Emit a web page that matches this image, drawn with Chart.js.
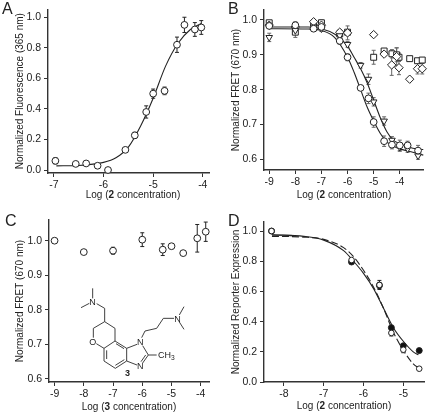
<!DOCTYPE html>
<html>
<head>
<meta charset="utf-8">
<title>Dose response panels</title>
<script src="https://cdn.jsdelivr.net/npm/chart.js@4/dist/chart.umd.min.js"></script>
<style>
html, body { margin: 0; padding: 0; background: #fff; overflow: hidden; }
#page { position: relative; width: 429px; height: 413px; font-family: "Liberation Sans", Arial, sans-serif; color: #222; }
#page canvas { position: absolute; }
.xtitle { position: absolute; font-size: 10px; white-space: nowrap; transform: translate(-50%, -50%); }
.letter { position: absolute; font-size: 16px; line-height: 16px; }
#molecule { position: absolute; left: 0; top: 205px; }
#molecule line { stroke: #222; stroke-width: 2.6; }
#molecule text { font-size: 27px; fill: #222; }
</style>
</head>
<body>
<div id="page">
    <canvas id="chartA" style="left:0;top:0"></canvas>
    <canvas id="chartB" style="left:215px;top:0"></canvas>
    <canvas id="chartC" style="left:0;top:205px"></canvas>
    <canvas id="chartD" style="left:215px;top:205px"></canvas>

    <div class="letter" style="left:2px;top:1px">A</div>
    <div class="letter" style="left:228px;top:1px">B</div>
    <div class="letter" style="left:5px;top:213px">C</div>
    <div class="letter" style="left:228px;top:213px">D</div>

    <div class="xtitle" style="left:133px;top:194px">Log (<b>2</b> concentration)</div>
    <div class="xtitle" style="left:344px;top:194px">Log (<b>2</b> concentration)</div>
    <div class="xtitle" style="left:129px;top:406px">Log (<b>3</b> concentration)</div>
    <div class="xtitle" style="left:344px;top:405px">Log (<b>2</b> concentration)</div>

    <svg id="molecule" width="215" height="208" viewBox="0 0 645 624">
        <line x1="278" y1="280" x2="278" y2="250"/><line x1="268" y1="295" x2="243" y2="308"/>
        <line x1="290" y1="296" x2="314" y2="310"/><line x1="314" y1="310" x2="314" y2="350"/>
        <line x1="314" y1="350" x2="280" y2="370"/><line x1="280" y1="370" x2="280" y2="398"/>
        <line x1="289" y1="416" x2="312" y2="430"/><line x1="312" y1="430" x2="345" y2="408"/>
        <line x1="345" y1="408" x2="345" y2="370"/><line x1="345" y1="370" x2="314" y2="350"/>
        <line x1="312" y1="430" x2="312" y2="468"/><line x1="320" y1="436" x2="320" y2="462"/>
        <line x1="312" y1="468" x2="346" y2="490"/><line x1="346" y1="490" x2="380" y2="468"/>
        <line x1="346" y1="481" x2="373" y2="464"/><line x1="380" y1="468" x2="380" y2="430"/>
        <line x1="380" y1="430" x2="345" y2="408"/><line x1="372" y1="431" x2="348" y2="416"/>
        <line x1="380" y1="430" x2="411" y2="418"/><line x1="380" y1="468" x2="411" y2="480"/>
        <line x1="428" y1="422" x2="445" y2="450"/><line x1="445" y1="450" x2="428" y2="474"/>
        <line x1="437" y1="450" x2="423" y2="470"/><line x1="445" y1="450" x2="470" y2="450"/>
        <line x1="425" y1="398" x2="435" y2="378"/><line x1="435" y1="378" x2="470" y2="370"/>
        <line x1="470" y1="370" x2="490" y2="340"/><line x1="490" y1="340" x2="522" y2="340"/>
        <line x1="538" y1="330" x2="552" y2="305"/><line x1="538" y1="351" x2="552" y2="373"/>
        <text x="268" y="300">N</text><text x="268" y="419">O</text>
        <text x="411" y="419">N</text><text x="411" y="492">N</text>
        <text x="523" y="350">N</text>
        <text x="474" y="459">CH<tspan font-size="20" dy="5">3</tspan></text>
        <text x="375" y="514" font-weight="bold">3</text>
    </svg>
</div>

<script>
// Panel A
const xTicksA = [-7, -6, -5, -4];
const yTicksA = [0, 0.2, 0.4, 0.6, 0.8, 1.0];
const logA = [-6.97, -6.56, -6.35, -6.12, -5.91, -5.56, -5.37, -5.14, -5.0, -4.77, -4.52, -4.37, -4.16, -4.03];
const valuesA = [0.06, 0.04, 0.043, 0.028, 0.0, 0.132, 0.227, 0.38, 0.5, 0.518, 0.82, 0.95, 0.92, 0.933];
const errorsA = [0.02, 0.005, 0.005, 0.005, 0, 0.008, 0.02, 0.04, 0.03, 0.025, 0.05, 0.05, 0.045, 0.045];
const curveLogA = [-6.95, -6.5, -6, -5.75, -5.5, -5.25, -5, -4.75, -4.5, -4.25, -4.03];
const curveA = [0.027, 0.03, 0.05, 0.08, 0.15, 0.29, 0.47, 0.68, 0.83, 0.92, 0.96];

// Panel B
const xTicksB = [-9, -8, -7, -6, -5, -4];
const yTicksB = [0.6, 0.7, 0.8, 0.9, 1.0];
const logB = [-9, -8, -7.3, -7, -6.3, -6, -5.5, -5.2, -5, -4.6, -4.3, -4, -3.7, -3.3];
const circlesB = [0.983, 0.985, 0.975, 0.98, 0.94, 0.893, 0.805, 0.775, 0.707, 0.652, 0.642, 0.64, 0.64, 0.625];
const circleErrB = [0.005, 0.01, 0.005, 0.005, 0.01, 0.01, 0.005, 0.015, 0.015, 0.015, 0.012, 0.015, 0.012, 0.015];
const trianglesB = [0.95, 0.97, 0.98, 0.975, 0.955, 0.93, 0.87, 0.83, 0.765, 0.71, 0.655, 0.635, 0.63, 0.61];
const triangleErrB = [0.012, 0.01, 0.005, 0.008, 0.01, 0.008, 0.008, 0.015, 0.012, 0.012, 0.01, 0.012, 0.01, 0.01];
const logSquaresB = [-9, -8, -7.3, -7, -6.3, -6, -5, -4.6, -4.3, -4.12, -4.03, -3.62, -3.32, -3.14];
const squaresB = [0.992, 0.965, 0.985, 0.992, 0.96, 0.965, 0.893, 0.911, 0.903, 0.9, 0.893, 0.889, 0.883, 0.885];
const squareErrB = [0.005, 0.015, 0.005, 0.008, 0.012, 0.005, 0.02, 0.006, 0.012, 0.02, 0.012, 0.004, 0.004, 0.004];
const logDiamondsB = [-9, -8, -7.3, -7, -6.3, -6, -5, -4.6, -4.31, -4.12, -4.03, -3.62, -3.32, -3.14];
const diamondsB = [0.985, 0.98, 0.995, 0.985, 0.965, 0.963, 0.958, 0.902, 0.871, 0.895, 0.863, 0.83, 0.86, 0.86];
const diamondErrB = [0.004, 0.006, 0.004, 0.01, 0.006, 0.02, 0.003, 0.006, 0.03, 0.025, 0.02, 0.003, 0.015, 0.015];
const curveLogB = [-9, -7.5, -7, -6.5, -6, -5.75, -5.5, -5.25, -5, -4.75, -4.5, -4.25, -4, -3.5, -3.1];
const curveLowB = [0.975, 0.974, 0.97, 0.95, 0.893, 0.85, 0.8, 0.75, 0.71, 0.675, 0.65, 0.638, 0.63, 0.62, 0.612];
const curveLogHighB = [-9, -7.5, -7, -6.5, -6.25, -6, -5.75, -5.5, -5.25, -5, -4.75, -4.5, -4.25, -4, -3.5, -3.1];
const curveHighB = [0.98, 0.98, 0.975, 0.96, 0.945, 0.925, 0.893, 0.86, 0.82, 0.77, 0.72, 0.68, 0.655, 0.645, 0.632, 0.628];

// Panel C
const xTicksC = [-9, -8, -7, -6, -5, -4];
const yTicksC = [0.6, 0.7, 0.8, 0.9, 1.0];
const logC = [-9, -8, -7, -6, -5.3, -5, -4.6, -4.12, -3.83];
const valuesC = [1.0, 0.967, 0.971, 1.003, 0.974, 0.984, 0.964, 1.007, 1.026];
const errorsC = [0, 0, 0.01, 0.02, 0.017, 0, 0, 0.04, 0.028];

// Panel D
const xTicksD = [-8, -7, -6, -5];
const yTicksD = [0, 0.2, 0.4, 0.6, 0.8, 1.0];
const logD = [-8.31, -6.3, -5.6, -5.3, -5, -4.6];
const openD = [1.0, 0.808, 0.643, 0.325, 0.214, 0.088];
const openErrD = [0, 0.01, 0.03, 0.02, 0.02, 0.005];
const filledD = [1.0, 0.795, 0.64, 0.36, 0.24, 0.208];
const filledErrD = [0, 0.01, 0.02, 0.01, 0.01, 0.005];
const curveLogD = [-8.3, -7.5, -7, -6.5, -6.25, -6, -5.75, -5.5, -5.25, -5, -4.75, -4.62];
const curveSolidD = [0.975, 0.965, 0.94, 0.87, 0.8, 0.72, 0.62, 0.49, 0.36, 0.27, 0.2, 0.18];
const curveDashLogD = [-8.3, -7.5, -7, -6.5, -6.25, -6, -5.75, -5.5, -5.25, -5, -4.75, -4.6];
const curveDashD = [0.965, 0.96, 0.945, 0.89, 0.83, 0.74, 0.63, 0.49, 0.33, 0.21, 0.12, 0.09];
const curveGreyLogD = [-8.3, -7.8];
const curveGreyD = [0.975, 0.97];

const ink = '#222';

function toPoints(xs, ys) {
    return xs.map((x, i) => ({ x: x, y: ys[i] }));
}

function markers(xs, ys, errors, style, extra) {
    return Object.assign({
        data: toPoints(xs, ys),
        errors: errors,
        showLine: false,
        pointStyle: style,
        pointRadius: 3.4,
        pointBackgroundColor: '#fff',
        pointBorderColor: ink,
        pointBorderWidth: 1,
        clip: false
    }, extra || {});
}

function curve(xs, ys, extra) {
    return Object.assign({
        data: toPoints(xs, ys),
        showLine: true,
        pointRadius: 0,
        borderColor: ink,
        borderWidth: 1.1,
        cubicInterpolationMode: 'monotone',
        clip: false
    }, extra || {});
}

// error bars with small caps, drawn under the markers
const errorBars = {
    id: 'errorBars',
    beforeDatasetsDraw(chart) {
        const ctx = chart.ctx;
        ctx.save();
        ctx.lineWidth = 1;
        chart.data.datasets.forEach(ds => {
            if (!ds.errors) return;
            ctx.strokeStyle = ds.errorColor || ink;
            ds.data.forEach((p, i) => {
                const err = ds.errors[i];
                if (!err) return;
                const x = chart.scales.x.getPixelForValue(p.x);
                const top = chart.scales.y.getPixelForValue(p.y + err);
                const bottom = chart.scales.y.getPixelForValue(p.y - err);
                ctx.beginPath();
                ctx.moveTo(x, top);
                ctx.lineTo(x, bottom);
                ctx.moveTo(x - 2, top);
                ctx.lineTo(x + 2, top);
                ctx.moveTo(x - 2, bottom);
                ctx.lineTo(x + 2, bottom);
                ctx.stroke();
            });
        });
        ctx.restore();
    }
};

function axis(range, tickValues, format, fitSize, isX) {
    return {
        type: 'linear',
        min: range[0],
        max: range[1],
        border: { color: '#333', width: 1.4 },
        grid: { drawOnChartArea: false, drawTicks: true, tickLength: 4, tickColor: '#333', tickWidth: 1 },
        ticks: {
            autoSkip: false,
            maxRotation: 0,
            padding: isX ? 2 : 3,
            color: ink,
            font: { family: '"Liberation Sans"', size: 10.5 },
            callback: v => format(v)
        },
        afterBuildTicks: scale => { scale.ticks = tickValues.map(v => ({ value: v })); },
        afterFit: scale => {
            if (isX) scale.height = fitSize;
            else scale.width = fitSize;
        }
    };
}

function makePanel(id, p) {
    const canvas = document.getElementById(id);
    canvas.width = p.width;
    canvas.height = p.height;
    const yScale = axis(p.yRange, p.yTicks, v => v.toFixed(1), p.left, false);
    yScale.title = {
        display: true,
        text: p.yTitle,
        color: ink,
        font: { family: '"Liberation Sans"', size: 10 },
        padding: { top: p.titleGap, bottom: 0 }
    };
    new Chart(canvas, {
        type: 'scatter',
        data: { datasets: p.datasets },
        plugins: [errorBars],
        options: {
            responsive: false,
            animation: false,
            layout: { padding: { top: p.top, right: p.width - p.right, left: 0, bottom: 0 } },
            plugins: { legend: { display: false }, tooltip: { enabled: false } },
            scales: {
                x: axis(p.xRange, p.xTicks, v => String(v), p.height - p.bottom, true),
                y: yScale
            }
        }
    });
}

makePanel('chartA', {
    width: 214, height: 205, left: 48, right: 212, top: 8, bottom: 173, titleGap: 14,
    xRange: [-7.119, -3.875], yRange: [-0.0195, 1.052],
    xTicks: xTicksA, yTicks: yTicksA,
    yTitle: 'Normalized Fluorescence (365 nm)',
    datasets: [
        markers(logA, valuesA, errorsA, 'circle'),
        curve(curveLogA, curveA)
    ]
});

const greyBars = { errorColor: '#666' };

makePanel('chartB', {
    width: 214, height: 205, left: 49, right: 211, top: 10, bottom: 170, titleGap: 15,
    xRange: [-9.2, -3.08], yRange: [0.5693, 1.0287],
    xTicks: xTicksB, yTicks: yTicksB,
    yTitle: 'Normalized FRET (670 nm)',
    datasets: [
        markers(logB, circlesB, circleErrB, 'circle', greyBars),
        markers(logB, trianglesB, triangleErrB, 'triangle', { pointRotation: 180, pointRadius: 3.8, errorColor: '#666' }),
        markers(logDiamondsB, diamondsB, diamondErrB, 'rectRot', { pointRadius: 4.2, errorColor: '#666' }),
        markers(logSquaresB, squaresB, squareErrB, 'rect', { pointRadius: 4.2, errorColor: '#666' }),
        curve(curveLogB, curveLowB),
        curve(curveLogHighB, curveHighB)
    ]
});

makePanel('chartC', {
    width: 214, height: 208, left: 49, right: 210, top: 15, bottom: 177, titleGap: 14,
    xRange: [-9.19, -3.718], yRange: [0.5904, 1.06],
    xTicks: xTicksC, yTicks: yTicksC,
    yTitle: 'Normalized FRET (670 nm)',
    datasets: [
        markers(logC, valuesC, errorsC, 'circle')
    ]
});

makePanel('chartD', {
    width: 214, height: 208, left: 49, right: 210, top: 17, bottom: 177, titleGap: 15,
    xRange: [-8.5, -4.48], yRange: [0, 1.06],
    xTicks: xTicksD, yTicks: yTicksD,
    yTitle: 'Normalized Reporter Expression',
    datasets: [
        markers(logD, openD, openErrD, 'circle', { pointRadius: 2.8 }),
        markers(logD, filledD, filledErrD, 'circle', { pointBackgroundColor: '#111', pointRadius: 3 }),
        curve(curveLogD, curveSolidD),
        curve(curveDashLogD, curveDashD, { borderDash: [7, 3] }),
        curve(curveGreyLogD, curveGreyD, { borderColor: '#888', borderWidth: 1.6 })
    ]
});
</script>
</body>
</html>
